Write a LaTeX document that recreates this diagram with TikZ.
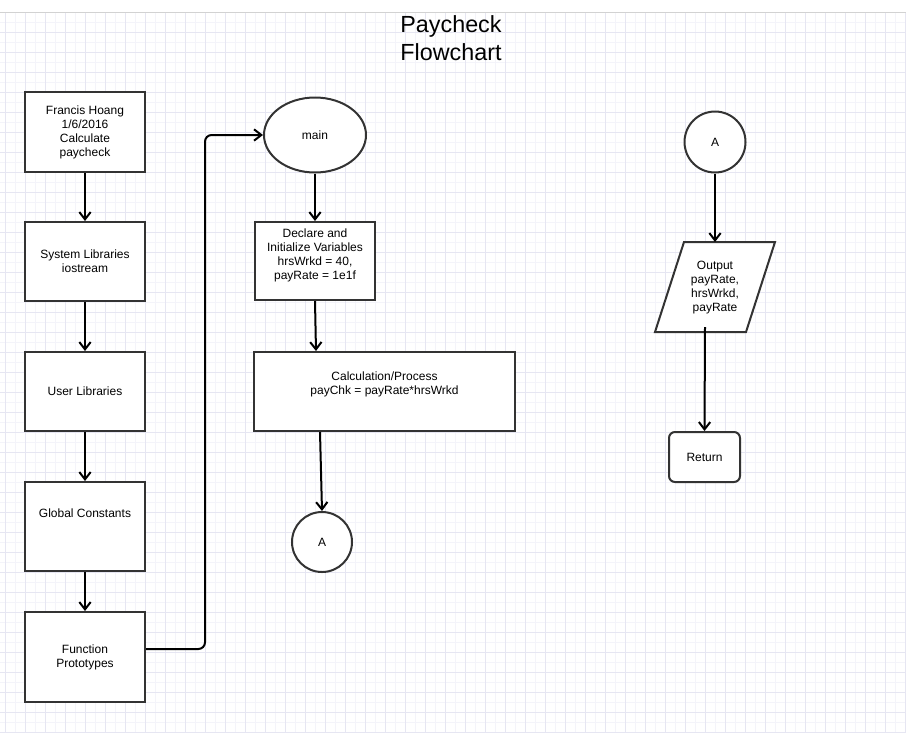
\documentclass[tikz,border=0pt]{standalone}
\usepackage{fontspec}
\setmainfont{Liberation Sans}
\usetikzlibrary{arrows.meta,shapes.geometric}
\definecolor{gridmaj}{RGB}{230,230,242}
\definecolor{gridmin}{RGB}{244,244,250}
\definecolor{edge}{RGB}{51,51,51}
\tikzset{
  base/.style={font=\fontsize{9}{10.5}\selectfont, align=center, text=black},
  box/.style={base, draw=edge, line width=1.5pt, fill=white, inner sep=0pt},
  circ/.style={base, draw=edge, line width=1.5pt, fill=white, circle, inner sep=0pt},
  arr/.style={draw=black, line width=1.5pt, -{Straight Barb[length=5.5pt,width=8.5pt]}},
  txt/.style={base, inner sep=0pt}
}
\begin{document}
\begin{tikzpicture}[x=0.75pt,y=-0.75pt]
\useasboundingbox (0,0) rectangle (906,733);
\fill[white] (0,0) rectangle (906,733);
% grid
\foreach \x in {15,35,...,905} \draw[gridmin, line width=0.6pt] (\x,12) -- (\x,733);
\foreach \y in {22.5,42.5,...,733} \draw[gridmin, line width=0.6pt] (0,\y) -- (906,\y);
\foreach \x in {5,25,...,905} \draw[gridmaj, line width=0.75pt] (\x,12) -- (\x,733);
\foreach \y in {32.5,52.5,...,733} \draw[gridmaj, line width=0.75pt] (0,\y) -- (906,\y);
\draw[gray!35, line width=0.75pt] (0,12) -- (906,12);

% title
\node[txt, font=\fontsize{17.5}{21}\selectfont] (title) at (451,38) {Paycheck\\Flowchart};

% left column
\node[box, minimum width=90pt, minimum height=60pt] (b1) at (85,132) {Francis Hoang\\1/6/2016\\Calculate\\paycheck};
\node[box, minimum width=90pt, minimum height=59.25pt] (b2) at (85,261.5) {System Libraries\\iostream};
\node[box, minimum width=90pt, minimum height=59.25pt] (b3) at (85,391.5) {User Libraries};
\node[box, minimum width=90pt, minimum height=66.75pt] (b4) at (85,526.5) {};
\node[txt] (b4t) at (85,513) {Global Constants};
\node[box, minimum width=90pt, minimum height=67.5pt] (b5) at (85,657) {Function\\Prototypes};

% middle column
\node[base, ellipse, draw=edge, line width=1.5pt, fill=white, inner sep=0pt, minimum width=76.5pt, minimum height=56.25pt] (main) at (315,135) {main};
\node[box, minimum width=90pt, minimum height=58.5pt] (decl) at (315,261) {};
\node[txt] (declt) at (315,255.5) {Declare and\\Initialize Variables\\hrsWrkd = 40,\\payRate = 1e1f};
\node[box, minimum width=195.75pt, minimum height=59.25pt] (calc) at (384.5,391.5) {};
\node[txt] (calct) at (384.5,384) {Calculation/Process\\payChk = payRate*hrsWrkd};
\node[circ, minimum size=45pt] (a1) at (322,542) {A};

% right column
\node[circ, minimum size=45.75pt] (a2) at (715,142) {A};
\coordinate (ptl) at (684,242);
\coordinate (ptr) at (775,242);
\coordinate (pbr) at (746,332);
\coordinate (pbl) at (655,332);
\draw[edge, line width=1.5pt, fill=white] (ptl) -- (ptr) -- (pbr) -- (pbl) -- cycle;
\node[txt] (out) at (715,288) {Output\\payRate,\\hrsWrkd,\\payRate};
\coordinate (ptop) at (715,242);
\coordinate (pout) at (705,327);
\node[box, rounded corners=4.5pt, minimum width=53.25pt, minimum height=37.5pt] (ret) at (704.5,457) {Return};

% connectors
\draw[arr] (b1.south) -- (b2.north);
\draw[arr] (b2.south) -- (b3.north);
\draw[arr] (b3.south) -- (b4.north);
\draw[arr] (b4.south) -- (b5.north);
\coordinate (turn) at (205,135);
\draw[arr, rounded corners=5pt] ([yshift=6pt]b5.east) -| (turn) -- (main.west);
\draw[arr] (main.south) -- (decl.north);
\draw[arr] (decl.south) -- ([xshift=47.25pt]calc.north west);
\draw[arr] ([xshift=50.25pt]calc.south west) -- (a1.north);
\draw[arr] (a2.south) -- (ptop);
\draw[arr] (pout) -- (ret.north);
\end{tikzpicture}
\end{document}
